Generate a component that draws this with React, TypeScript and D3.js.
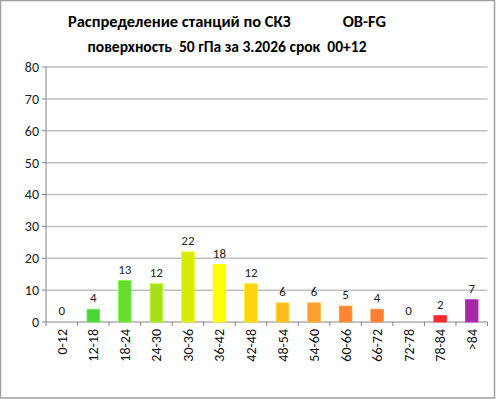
import React from "react";
import * as d3 from "d3";

const categories = ["0-12","12-18","18-24","24-30","30-36","36-42","42-48","48-54","54-60","60-66","66-72","72-78","78-84",">84"];
const values = [0,4,13,12,22,18,12,6,6,5,4,0,2,7];
const colors = ["#4CD437","#4CD437","#6ADB2E","#A6E01A","#D7EC00","#FFFF00","#FFD30D","#FDBB1C","#FF9F2F","#FF8531","#FF8033","#FF2A2A","#FF2A2A","#A52AA5"];
const yTicks = [0,10,20,30,40,50,60,70,80];
const titleLine1 = "Распределение станций по СКЗ              OB-FG";
const titleLine2 = "поверхность  50 гПа за 3.2026 срок  00+12";

const W = 496, H = 399;
const left = 46, right = 487.5, top = 67, bottom = 322;

export default function App() {
  const x = d3.scaleBand<string>().domain(categories).range([left, right]).paddingInner(0.6).paddingOuter(0.3);
  const xb = d3.scaleBand<string>().domain(categories).range([left, right]);
  const y = d3.scaleLinear().domain([0, 80]).range([bottom, top]);
  const font = "Carlito, Calibri, 'Liberation Sans', Arial, sans-serif";
  return (
    <div style={{ position: "absolute", left: 0, top: 0 }}>
      <svg width={W} height={H} style={{ display: "block" }} fontFamily={font}>
        <rect x={0.5} y={0.5} width={494} height={397.5} fill="#fff" stroke="#a0a0a0" strokeWidth={1.5} />
        <text x={227} y={27} textAnchor="middle" fontSize={16} fontWeight="bold" style={{ whiteSpace: "pre" }} textLength={318} lengthAdjust="spacingAndGlyphs">{titleLine1}</text>
        <text x={227} y={52} textAnchor="middle" fontSize={16} fontWeight="bold" style={{ whiteSpace: "pre" }} textLength={279} lengthAdjust="spacingAndGlyphs">{titleLine2}</text>
        {yTicks.map(t => (
          <g key={t}>
            {t > 0 && <line x1={left} x2={right} y1={y(t)} y2={y(t)} stroke="#c0c0c0" strokeWidth={1.5} />}
            <line x1={left - 4} x2={left} y1={y(t)} y2={y(t)} stroke="#868686" />
            <text x={39} y={y(t)} dy="0.35em" textAnchor="end" fontSize={14} fill="#222">{t}</text>
          </g>
        ))}
        <line x1={left} x2={left} y1={top} y2={bottom} stroke="#868686" />
        <line x1={left} x2={right} y1={bottom} y2={bottom} stroke="#868686" />
        {categories.map((c) => (
          <line key={"t" + c} x1={xb(c)! + xb.bandwidth()} x2={xb(c)! + xb.bandwidth()} y1={bottom} y2={bottom + 4} stroke="#868686" />
        ))}
        <line x1={left} x2={left} y1={bottom} y2={bottom + 4} stroke="#868686" />
        {categories.map((c, i) => {
          const v = values[i];
          const bx = x(c)!;
          const bw = x.bandwidth();
          const cx = bx + bw / 2;
          return (
            <g key={c}>
              {v > 0 && <rect x={bx} y={y(v)} width={bw} height={bottom - y(v)} fill={colors[i]} stroke={d3.color(colors[i])!.brighter(0.4).toString()} strokeWidth={0.8} />}
              <text x={cx} y={y(v) - 7} textAnchor="middle" fontSize={13} fill="#222">{v}</text>
              <text transform={`translate(${cx + 5},${bottom + 7}) rotate(-90)`} textAnchor="end" fontSize={14} fill="#111">{c}</text>
            </g>
          );
        })}
      </svg>
    </div>
  );
}
